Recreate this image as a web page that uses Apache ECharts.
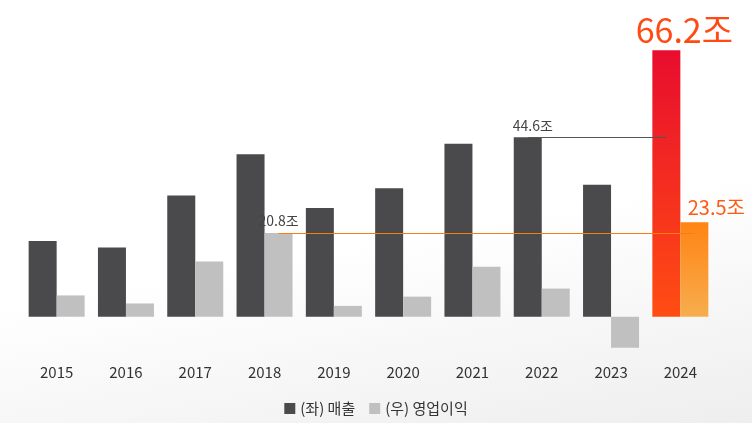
<!DOCTYPE html>
<html>
<head>
<meta charset="utf-8">
<script src="https://cdn.jsdelivr.net/npm/echarts@6/dist/echarts.min.js"></script>
<style>
html, body { margin: 0; padding: 0; background: #fff; }
#chart { width: 752px; height: 423px; background: linear-gradient(170deg, #ffffff 55%, #eeeeef 100%); }
</style>
</head>
<body>
<div id="chart"></div>
<script>
"use strict";

const years = ['2015', '2016', '2017', '2018', '2019', '2020', '2021', '2022', '2023', '2024'];
const sales = [18.8, 17.2, 30.1, 40.4, 27.0, 31.9, 43.0, 44.6, 32.8, 66.2];
const profit = [5.3, 3.3, 13.7, 20.8, 2.7, 5.0, 12.4, 7.0, -7.7, 23.5];

const chart = echarts.init(document.getElementById('chart'));
const font = '"Noto Sans CJK KR", "Noto Sans", sans-serif';

const salesData = sales.map((v, i) => {
    const item = { value: v };
    if (i === 9) {
        item.itemStyle = { color: new echarts.graphic.LinearGradient(0, 0, 0, 1, [
            { offset: 0, color: '#e80d2e' }, { offset: 1, color: '#ff4d12' }]) };
        item.label = { show: true, position: 'top', formatter: '66.2조', color: '#ff4a14',
            fontSize: 34, offset: [18, 2], fontFamily: font };
    }
    if (i === 7) {
        item.label = { show: true, position: 'top', formatter: '44.6조', color: '#444',
            fontSize: 14, offset: [5, 0], fontFamily: font };
    }
    return item;
});

const profitData = profit.map((v, i) => {
    const item = { value: v };
    if (i === 9) {
        item.itemStyle = { color: new echarts.graphic.LinearGradient(0, 0, 0, 1, [
            { offset: 0, color: '#ff8414' }, { offset: 1, color: '#f7ad4e' }]) };
        item.label = { show: true, position: 'top', formatter: '23.5조', color: '#ff5a14',
            fontSize: 20, offset: [22, 0], fontFamily: font };
    }
    if (i === 3) {
        item.label = { show: true, position: 'top', formatter: '20.8조', color: '#444',
            fontSize: 14, fontFamily: font };
        item.labelLayout = { dx: 18, dy: -32 };
        item.labelLine = { show: true, lineStyle: { color: '#bbb', width: 1 } };
    }
    return item;
});

const option = {
    animation: false,
    grid: { left: 22, right: 37, top: 35, bottom: 66 },
    legend: {
        bottom: 2, itemWidth: 11, itemHeight: 11, itemGap: 14,
        textStyle: { fontSize: 15, color: '#333', fontFamily: font },
        data: [{ name: '(좌) 매출', icon: 'rect' }, { name: '(우) 영업이익', icon: 'rect' }]
    },
    xAxis: {
        type: 'category', data: years,
        axisLine: { show: false }, axisTick: { show: false },
        axisLabel: { fontSize: 15, color: '#333', margin: 8, fontFamily: font }
    },
    yAxis: { type: 'value', min: -10, max: 70, show: false, splitLine: { show: false } },
    series: [
        {
            name: '(좌) 매출', type: 'bar', barWidth: 28, barGap: '0%',
            itemStyle: { color: '#4a4a4c' }, data: salesData,
            markLine: {
                silent: true, symbol: 'none', label: { show: false },
                lineStyle: { color: '#555', width: 1, type: 'solid' },
                data: [[{ coord: ['2022', 44.6] }, { coord: ['2024', 44.6] }]]
            }
        },
        {
            name: '(우) 영업이익', type: 'bar', barWidth: 28,
            itemStyle: { color: '#c0c0c0' }, data: profitData,
            markLine: {
                silent: true, symbol: 'none', label: { show: false },
                lineStyle: { color: '#ff7a10', width: 1, type: 'solid' },
                data: [[{ coord: ['2018', 20.8] }, { coord: ['2024', 20.8] }]]
            }
        }
    ]
};

chart.setOption(option);
</script>
</body>
</html>
